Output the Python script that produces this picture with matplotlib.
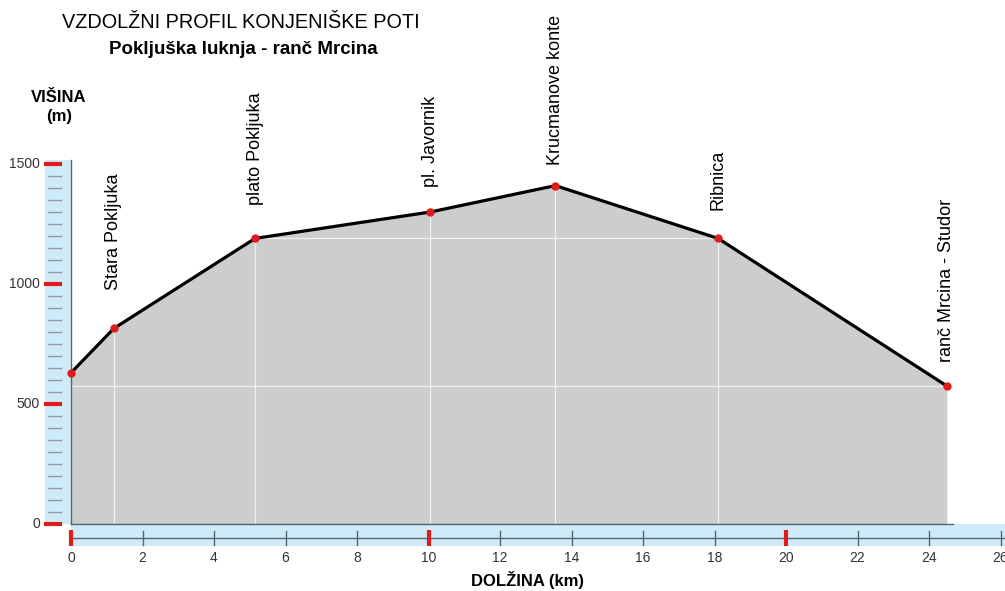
"""
Vzdolzni profil konjeniske poti - Pokljuska luknja - ranc Mrcina
"""

import matplotlib.pyplot as plt
import numpy as np

# --- data ---
places = ['', 'Stara Pokljuka', 'plato Pokljuka', 'pl. Javornik',
          'Krucmanove konte', 'Ribnica', 'ranč Mrcina - Studor']
dist_km = [0, 1.2, 5.15, 10.05, 13.55, 18.1, 24.5]
height_m = [630, 815, 1190, 1300, 1410, 1190, 575]

x_ticks = [0, 2, 4, 6, 8, 10, 12, 14, 16, 18, 20, 22, 24, 26]
x_major = [0, 10, 20]
y_major = [0, 500, 1000, 1500]
y_minor = list(range(0, 1501, 50))
grid_levels = [575, 1190]

title = 'VZDOLŽNI PROFIL KONJENIŠKE POTI'
subtitle = 'Pokljuška luknja - ranč Mrcina'

# --- layout (pixels of the 1005x591 picture) ---
W, H = 1005, 591
X0, PX_KM = 71, 35.75     # pixel of 0 km, pixels per km
Y0, PX_M = 524, 0.24      # pixel of 0 m, pixels per m
label_pad = [0, 38, 33, 25, 21, 28, 24]

BLUE = '#cfeaf9'
GREY = '#cdcdcd'
RED = '#dd1c1c'
AXC = '#56666f'

plt.rcParams['font.family'] = ['Liberation Sans', 'DejaVu Sans']

fig = plt.figure(figsize=(W / 100, H / 100), dpi=100)
ax = fig.add_axes([0, 0, 1, 1])
ax.set_xlim(-X0 / PX_KM, (W - X0) / PX_KM)
ax.set_ylim(-(H - Y0) / PX_M, Y0 / PX_M)
ax.axis('off')


def km(px):
    return px / PX_KM


def m(px):
    return px / PX_M


y_top = m(Y0 - 160)
x_end = ax.get_xlim()[1]

# blue strips
ax.fill_between([km(-26), 0], 0, y_top, color=BLUE, lw=0, zorder=0)
ax.fill_between([0, x_end], m(-22), 0, color=BLUE, lw=0, zorder=0)

# profile fill and white guide lines clipped to it
poly = ax.fill_between(dist_km, 0, height_m, color=GREY, lw=0, zorder=1)
clip = poly.get_paths()[0]
for d in dist_km[1:-1]:
    ln = ax.axvline(d, color='white', lw=0.9, alpha=0.7, zorder=2)
    ln.set_clip_path(clip, ax.transData)
for lev in grid_levels:
    ln = ax.axhline(lev, color='white', lw=0.9, alpha=0.7, zorder=2)
    ln.set_clip_path(clip, ax.transData)

# frame lines
ax.plot([0, 0], [0, y_top], color=AXC, lw=1, zorder=3)
ax.plot([0, dist_km[-1] + km(6)], [0, 0], color=AXC, lw=1, zorder=3)

# x axis inside the bottom strip
y_ax = m(-14)
ax.plot([0, x_end], [y_ax, y_ax], color=AXC, lw=1, zorder=3)
for t in x_ticks:
    if t in x_major:
        ax.plot([t, t], [y_ax - m(8), y_ax + m(8)], color=RED, lw=3,
                solid_capstyle='butt', zorder=4)
    else:
        ax.plot([t, t], [y_ax - m(7), y_ax + m(7)], color=AXC, lw=1, zorder=4)
    ax.text(t, m(-34), str(t), ha='center', va='center', fontsize=10,
            color='#333333')

# y ticks in the left strip
for v in y_minor:
    if v in y_major:
        ax.plot([km(-27), km(-9)], [v, v], color=RED, lw=3,
                solid_capstyle='butt', zorder=4)
        ax.text(km(-31), v, str(v), ha='right', va='center', fontsize=10,
                color='#333333')
    else:
        ax.plot([km(-23), km(-10)], [v, v], color='#8d9ba4', lw=1, zorder=4)

# profile line and points
ax.plot(dist_km, height_m, color='black', lw=2.3, zorder=5,
        solid_joinstyle='round')
ax.plot(dist_km, height_m, 'o', color=RED, ms=5, zorder=6)

for name, d, h, pad in zip(places, dist_km, height_m, label_pad):
    if name:
        ax.annotate(name, (d, h), xytext=(0, pad), textcoords='offset pixels',
                    rotation=90, ha='center', va='bottom', fontsize=13)


def fx(px):
    return px / W


def fy(py):
    return 1 - py / H


fig.text(fx(241), fy(22), title, ha='center', va='center', fontsize=14.3)
fig.text(fx(243), fy(50), subtitle, ha='center', va='center', fontsize=13.5,
         fontweight='bold')
fig.text(fx(59), fy(97), 'VIŠINA', ha='center', va='center', fontsize=12,
         fontweight='bold')
fig.text(fx(59), fy(116), '(m)', ha='center', va='center', fontsize=12,
         fontweight='bold')
fig.text(fx(527), fy(580), 'DOLŽINA (km)', ha='center', va='center',
         fontsize=12, fontweight='bold')

fig.savefig('out.png', dpi=100)
